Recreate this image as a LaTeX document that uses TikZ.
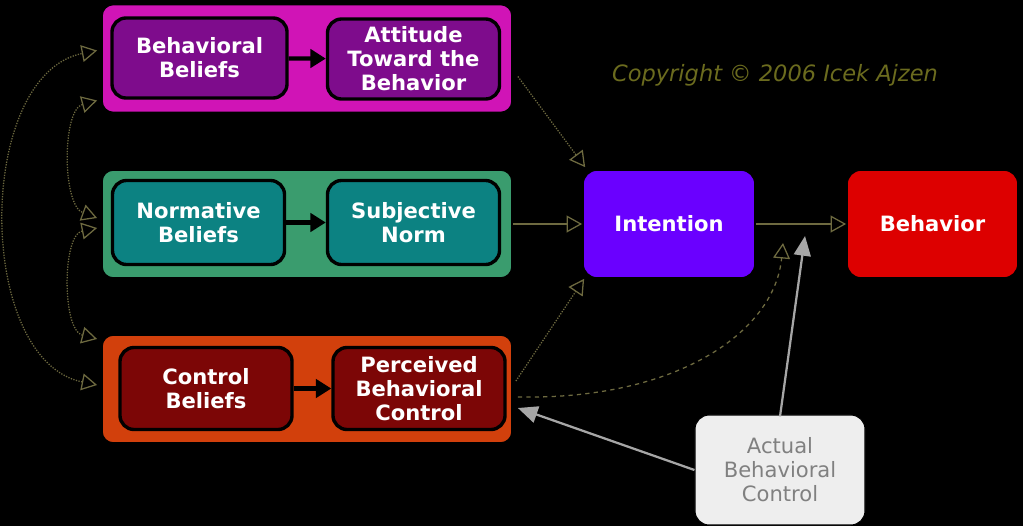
\documentclass[tikz,border=0pt]{standalone}
\usepackage{fontspec}
\setmainfont{DejaVu Sans}
\usetikzlibrary{positioning,arrows.meta,calc}
\definecolor{attout}{HTML}{D014B6}
\definecolor{attin}{HTML}{7E0C8C}
\definecolor{normout}{HTML}{3A9C6E}
\definecolor{normin}{HTML}{0C8282}
\definecolor{ctrlout}{HTML}{D2400C}
\definecolor{ctrlin}{HTML}{7C0606}
\definecolor{intc}{HTML}{6A00FF}
\definecolor{behc}{HTML}{DD0000}
\definecolor{abcfill}{HTML}{EEEEEE}
\definecolor{abcline}{HTML}{A6A6A6}
\definecolor{connc}{HTML}{6E6A40}
\definecolor{copyc}{HTML}{6B6B1E}

\begin{document}
\begin{tikzpicture}[x=0.025cm,y=-0.025cm,
  grp/.style={draw=black,line width=1.2pt,rounded corners=8pt,
    minimum width=10.25cm,minimum height=2.7cm},
  inbox/.style={draw=black,line width=2.4pt,rounded corners=10pt,align=center,
    text=white,font=\bfseries\fontsize{15}{17}\selectfont,inner sep=2pt,
    minimum width=4.3cm,minimum height=2cm},
  mainbox/.style={inbox,line width=1.2pt,minimum height=2.7cm},
  link/.style={-{Triangle[length=11pt,width=13pt]},line width=3pt,black},
  conn/.style={draw=connc,line width=0.9pt,densely dotted,
    -{Triangle[open,length=11pt,width=12pt]}},
  twoway/.style={conn,{Triangle[open,length=11pt,width=12pt]}-{Triangle[open,length=11pt,width=12pt]}},
  real/.style={draw=abcline,line width=1.6pt,-{Triangle[length=14pt,width=12pt]}}]
\useasboundingbox (0,0) rectangle (1023,526);
\fill[black] (0,0) rectangle (1023,526);

\node[grp,fill=attout] (att-grp) at (307,58.5) {};
\node[inbox,fill=attin,minimum width=4.375cm] (bb) at (199.5,58) {Behavioral\\Beliefs};
\node[inbox,fill=attin] (att) at (413.5,59) {Attitude\\Toward the\\Behavior};
\draw[link] (bb) -- (att);

\node[grp,fill=normout] (norm-grp) at (307,224) {};
\node[inbox,fill=normin,minimum height=2.1cm] (nb) at (198.5,222.5) {Normative\\Beliefs};
\node[inbox,fill=normin,minimum height=2.1cm] (sn) at (413.5,222.5) {Subjective\\Norm};
\draw[link] (nb) -- (sn);

\node[grp,fill=ctrlout] (ctrl-grp) at (307,389) {};
\node[inbox,fill=ctrlin,minimum height=2.05cm] (cb) at (206,388.5) {Control\\Beliefs};
\node[inbox,fill=ctrlin,minimum height=2.05cm] (pbc) at (419,388.5) {Perceived\\Behavioral\\Control};
\draw[link] (cb) -- (pbc);

\node[mainbox,fill=intc] (int) at (669,224) {Intention};
\node[mainbox,fill=behc,minimum width=4.275cm] (beh) at (932.5,224) {Behavior};
\node[mainbox,fill=abcfill,text=gray,font=\fontsize{15}{17}\selectfont,
  minimum width=4.25cm,minimum height=2.75cm,line width=0.8pt] (abc) at (780,470)
  {Actual\\Behavioral\\Control};

\node[text=copyc,font=\itshape\fontsize{16}{18}\selectfont] (copy) at (775,75)
  {Copyright © 2006 Icek Ajzen};

\coordinate (pbc-hit) at (783,243);
\coordinate (abc-hit) at (805,236);

\draw[conn] ($(att-grp.east)+(5,18)$) -- ($(int.north west)+(3,-2)$);
\draw[conn,solid] (norm-grp.east) -- (int.west);
\draw[conn] ($(ctrl-grp.east)+(3,-8)$) -- ($(int.south west)+(2,0)$);
\draw[conn,solid] (int.east) -- (beh.west);
\draw[conn,dashed] ($(ctrl-grp.east)+(5,8)$) .. controls (680,400) and (775,330) .. (pbc-hit);
\draw[real] ($(abc.north)+(0,2)$) -- (abc-hit);
\draw[real] (abc.west) -- ($(ctrl-grp.east)+(5,19)$);

\draw[twoway] ($(ctrl-grp.west)+(-4,-4)$) .. controls (-25,360) and (-25,75) .. ($(att-grp.west)+(-4,-8)$);
\draw[twoway] ($(att-grp.west)+(-4,42)$) .. controls (62,110) and (62,205) .. ($(norm-grp.west)+(-4,-6)$);
\draw[twoway] ($(norm-grp.west)+(-4,4)$) .. controls (62,235) and (62,330) .. ($(ctrl-grp.west)+(-4,-50)$);
\end{tikzpicture}
\end{document}
